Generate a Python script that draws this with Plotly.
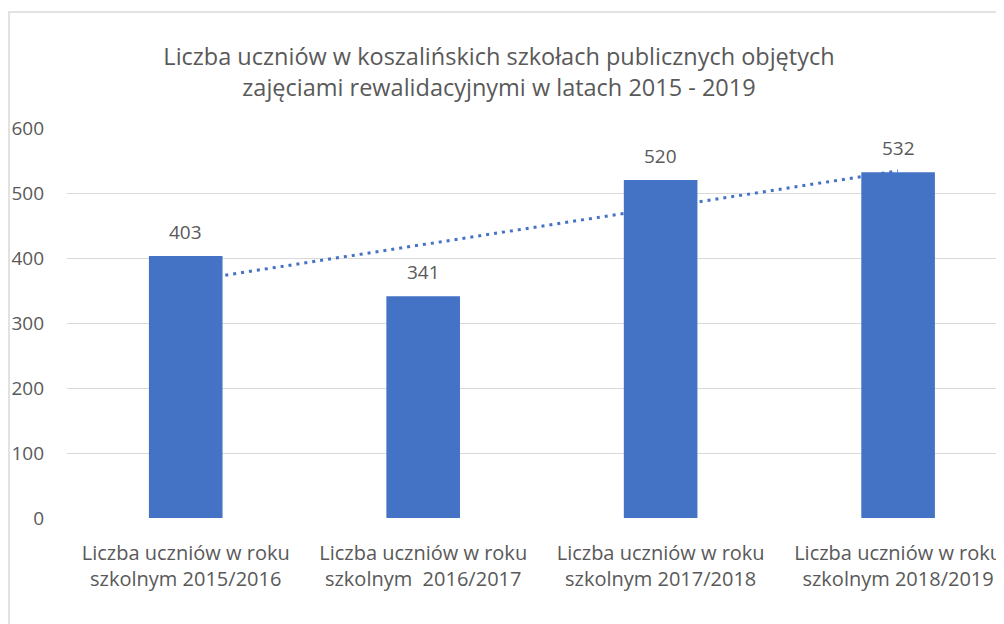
import numpy as np
import plotly.graph_objects as go

categories = [
    "Liczba uczniów w roku<br>szkolnym 2015/2016",
    "Liczba uczniów w roku<br>szkolnym  2016/2017",
    "Liczba uczniów w roku<br>szkolnym 2017/2018",
    "Liczba uczniów w roku<br>szkolnym 2018/2019",
]
values = [403, 341, 520, 532]
title_text = ("Liczba uczniów w koszalińskich szkołach publicznych objętych<br>"
              "zajęciami rewalidacyjnymi w latach 2015 - 2019")

FONT = "Open Sans"
BLUE = "#4472C4"
GREY = "#595959"

W, H = 996, 616          # page body has an 8px margin
L, T, B = 59, 120, 106
plot_w = W - L
plot_h = H - T - B

xs = np.arange(len(values))
slope, intercept = np.polyfit(xs, values, 1)
trend = slope * xs + intercept

fig = go.Figure()
fig.add_trace(go.Bar(
    x=xs, y=values, width=0.31, marker=dict(color=BLUE, line=dict(width=0)),
    showlegend=False, hoverinfo="y",
))

annotations = [
    dict(x=x, y=v, xref="x", yref="y", text=str(v), showarrow=False,
         yanchor="middle", xanchor="center", yshift=24,
         font=dict(family=FONT, size=19, color=GREY))
    for x, v in zip(xs, values)
]

shapes = [
    # linear trendline (behind the bars)
    dict(type="line", xref="x", yref="y", x0=float(xs[0]), y0=float(trend[0]),
         x1=float(xs[-1]), y1=float(trend[-1]), layer="between",
         line=dict(color=BLUE, width=3, dash="3px,5px")),
    # chart border
    dict(type="rect", xref="paper", yref="paper",
         x0=-(L - 1) / plot_w, x1=1.05, y0=-0.5, y1=(plot_h + T - 4) / plot_h,
         line=dict(color="#D9D9D9", width=1.5), fillcolor="rgba(0,0,0,0)", layer="below"),
]

fig.update_layout(
    width=W, height=H,
    margin=dict(l=L, r=0, t=T, b=B),
    paper_bgcolor="white", plot_bgcolor="white",
    font=dict(family=FONT, color=GREY),
    title=dict(text=title_text, x=491 / W, xanchor="center",
               y=1 - 57 / H, yanchor="middle", yref="container",
               font=dict(family=FONT, size=23.5, color=GREY)),
    xaxis=dict(range=[-0.5, 3.446], tickvals=list(xs), ticktext=categories,
               showgrid=False, zeroline=False, showline=False, ticklabelstandoff=21,
               ticklabeloverflow="allow",
               tickfont=dict(family=FONT, size=20, color=GREY)),
    yaxis=dict(range=[0, 600], dtick=100, showgrid=True, gridcolor="#D9D9D9", gridwidth=1.3,
               zeroline=False, showline=False, ticklabelstandoff=22,
               tickfont=dict(family=FONT, size=19, color=GREY)),
    annotations=annotations,
    shapes=shapes,
)

fig.write_html("out.html")
